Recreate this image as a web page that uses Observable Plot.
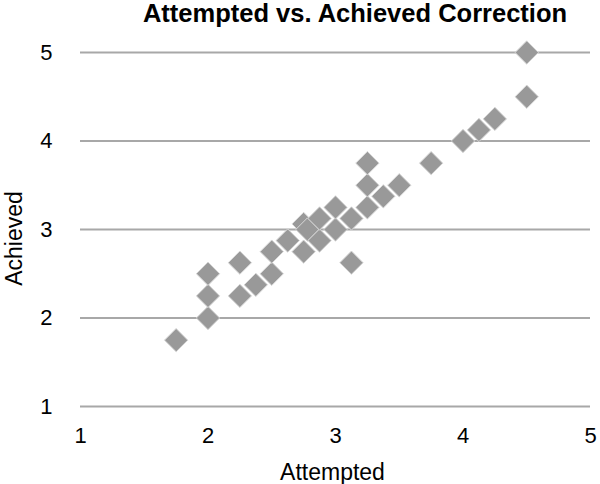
<!DOCTYPE html>
<html>
<head>
<meta charset="utf-8">
<script src="https://cdn.jsdelivr.net/npm/d3@7"></script>
<script src="https://cdn.jsdelivr.net/npm/@observablehq/plot@0.6"></script>
<style>
  html, body { margin: 0; padding: 0; background: #fff; }
  #wrap { width: 600px; height: 484px; font-family: "Liberation Sans", Arial, Helvetica, sans-serif; }
  #title { height: 32px; line-height: 27px; text-align: center; font-weight: bold; font-size: 25.5px; color: #000; padding-left: 110px; box-sizing: border-box; white-space: nowrap; overflow: visible; }
</style>
</head>
<body>
<div id="wrap">
  <div id="title">Attempted vs. Achieved Correction</div>
  <div id="chart"></div>
</div>
<script>
const attempted = [1.75, 2, 2, 2, 2.25, 2.25, 2.375, 2.5, 2.5, 2.625, 2.75, 2.75, 2.78, 2.875, 2.875, 3, 3, 3.125, 3.125, 3.25, 3.25, 3.25, 3.375, 3.5, 3.75, 4, 4.125, 4.25, 4.5, 4.5];
const achieved  = [1.75, 2, 2.25, 2.5, 2.25, 2.625, 2.375, 2.5, 2.75, 2.875, 2.75, 3.0625, 3.0, 2.875, 3.125, 3, 3.25, 2.625, 3.125, 3.25, 3.5, 3.75, 3.375, 3.5, 3.75, 4, 4.125, 4.25, 4.5, 5];
const ticks = [1, 2, 3, 4, 5];
const xLabel = "Attempted";
const yLabel = "Achieved";

const data = attempted.map((a, i) => ({attempted: a, achieved: achieved[i]}));

const chart = Plot.plot({
  width: 600,
  height: 452,
  marginLeft: 80,
  marginRight: 10,
  marginTop: 20,
  marginBottom: 78,
  style: {fontFamily: '"Liberation Sans", Arial, Helvetica, sans-serif', fontSize: "22px", color: "#000", background: "#fff", overflow: "visible"},
  x: {domain: [1, 5]},
  y: {domain: [1, 5]},
  marks: [
    Plot.gridY(ticks, {stroke: "#a8a8a8", strokeOpacity: 1, strokeWidth: 2}),
    Plot.axisX(ticks, {tickSize: 0, tickPadding: 21, tickFormat: "d", label: null, fontSize: 22}),
    Plot.axisY(ticks, {tickSize: 0, tickPadding: 28, tickFormat: "d", label: null, fontSize: 22}),
    Plot.text([xLabel], {text: d => d, frameAnchor: "bottom", textAnchor: "middle", lineAnchor: "bottom", dy: 73, dx: -3, fontSize: 23, fill: "#000"}),
    Plot.text([yLabel], {text: d => d, frameAnchor: "left", textAnchor: "middle", rotate: -90, lineAnchor: "top", dx: -75, dy: 9, fontSize: 23, fill: "#000"}),
    Plot.dot(data, {x: "attempted", y: "achieved", symbol: "diamond2", r: 10.5, fill: "#999", stroke: "#d8d8d8", strokeWidth: 1})
  ]
});
document.getElementById("chart").appendChild(chart);
</script>
</body>
</html>
